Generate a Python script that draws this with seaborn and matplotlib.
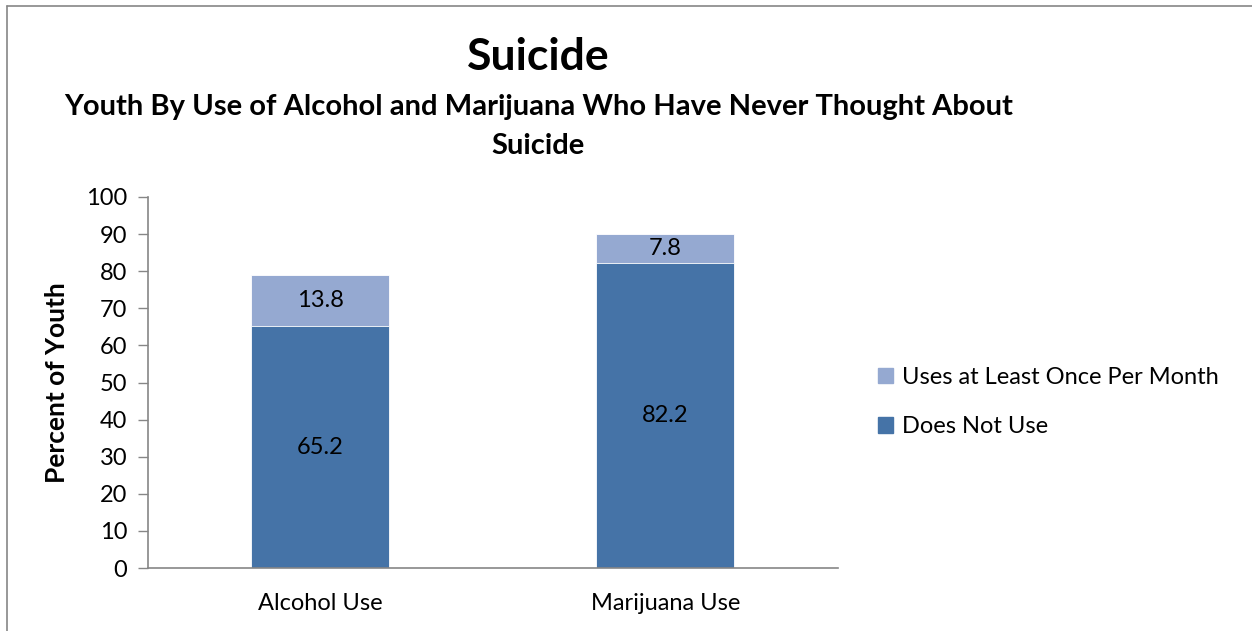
import matplotlib
matplotlib.use("Agg")
import matplotlib.pyplot as plt
import pandas as pd
import seaborn as sns
from matplotlib.lines import Line2D
from matplotlib.patches import Patch

categories = ["Alcohol Use", "Marijuana Use"]
does_not_use = [65.2, 82.2]
uses_monthly = [13.8, 7.8]
series_names = ["Uses at Least Once Per Month", "Does Not Use"]
y_ticks = list(range(0, 101, 10))

dark = "#4573a7"
light = "#95a9d1"

sns.set_theme(style="white")
plt.rcParams["font.family"] = ["Lato", "DejaVu Sans"]
plt.rcParams["text.color"] = "black"
plt.rcParams["axes.labelcolor"] = "black"
plt.rcParams["xtick.color"] = "black"
plt.rcParams["ytick.color"] = "black"

df = pd.DataFrame({
    "category": categories,
    "does_not_use": does_not_use,
    "uses_monthly": uses_monthly,
})
df["total"] = df["does_not_use"] + df["uses_monthly"]

fig = plt.figure(figsize=(12.52, 6.31), dpi=100)
ax = fig.add_axes([0.1182, 0.0998, 0.5511, 0.588])

sns.barplot(data=df, x="category", y="total", color=light, width=0.4,
            edgecolor="white", linewidth=0.6, saturation=1, ax=ax)
sns.barplot(data=df, x="category", y="does_not_use", color=dark, width=0.4,
            edgecolor="white", linewidth=0.6, saturation=1, ax=ax)

# segment labels, centred in each piece of the stack
for i, row in df.iterrows():
    ax.text(i, row["does_not_use"] / 2, f"{row['does_not_use']:.1f}",
            ha="center", va="center", fontsize=17, color="black")
    ax.text(i, row["does_not_use"] + row["uses_monthly"] / 2,
            f"{row['uses_monthly']:.1f}",
            ha="center", va="center", fontsize=17, color="black")

ax.set_ylim(0, 100)
ax.set_xlim(-0.5, 1.5)
ax.set_yticks(y_ticks)
ax.set_yticklabels([str(t) for t in y_ticks], fontsize=17)
ax.tick_params(axis="y", which="major", length=7, width=1, color="#868686",
               labelcolor="black", direction="out", left=True, pad=8)
ax.tick_params(axis="x", labelsize=17, length=0, pad=18, labelcolor="black")
ax.set_xlabel("")
ax.set_ylabel("Percent of Youth", fontsize=19, fontweight="bold", labelpad=12)

for side in ["top", "right"]:
    ax.spines[side].set_visible(False)
for side in ["left", "bottom"]:
    ax.spines[side].set_color("#868686")
    ax.spines[side].set_linewidth(1.2)

handles = [Patch(facecolor=light, edgecolor=light),
           Patch(facecolor=dark, edgecolor=dark)]
fig.legend(handles, series_names, loc="center left",
           bbox_to_anchor=(0.684, 0.363), frameon=False, fontsize=17,
           handlelength=0.65, handleheight=0.65, handletextpad=0.4,
           labelspacing=1.2)

fig.text(0.43, 0.91, "Suicide", ha="center", va="center",
         fontsize=32, fontweight="bold")
fig.text(0.43, 0.80,
         "Youth By Use of Alcohol and Marijuana Who Have Never Thought About\nSuicide",
         ha="center", va="center", fontsize=21, fontweight="bold",
         linespacing=1.6)

# chart area border (top and left edges visible in the crop)
fig.add_artist(Line2D([0.0056, 1.0], [0.9905, 0.9905], transform=fig.transFigure,
                      color="#868686", linewidth=1.2))
fig.add_artist(Line2D([0.0056, 0.0056], [0.0, 0.9905], transform=fig.transFigure,
                      color="#868686", linewidth=1.2))

fig.savefig("out.png", dpi=100)
